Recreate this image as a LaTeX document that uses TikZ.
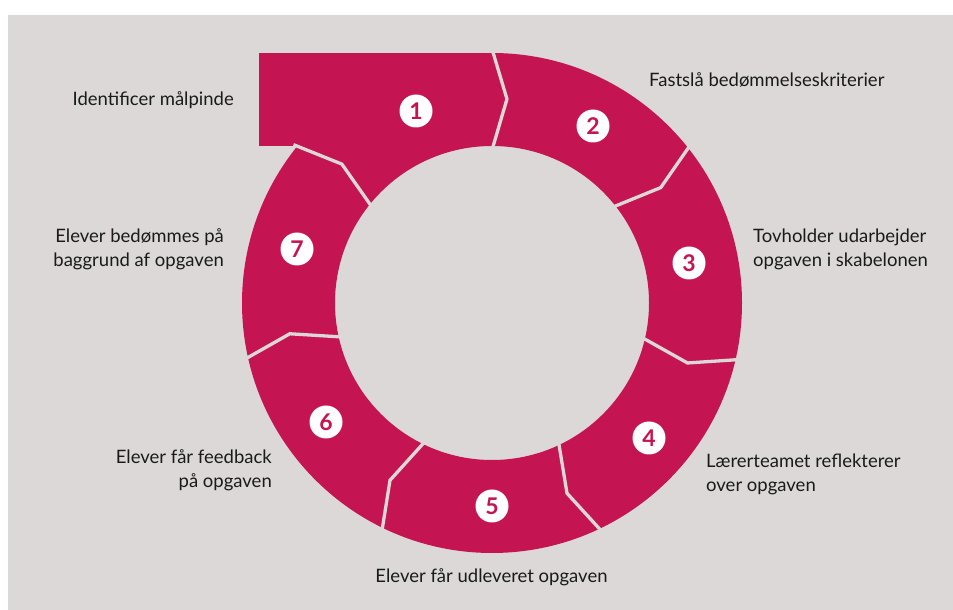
\documentclass[tikz,border=0pt]{standalone}
\usepackage{fontspec}
\setmainfont{Lato}
\definecolor{bg}{RGB}{220,216,215}
\definecolor{crim}{RGB}{196,21,82}
\definecolor{txt}{RGB}{26,26,26}
\begin{document}
\begin{tikzpicture}[x=1pt,y=1pt,
  gap/.style={draw=bg, line width=3.3pt, line join=miter},
  num/.style={circle, fill=white, minimum size=33pt, inner sep=0pt, text=crim, font=\fontsize{23}{23}\selectfont\bfseries},
  lab/.style={text=txt, font=\fontsize{18.5}{23.8}\selectfont, inner sep=0pt}]
\useasboundingbox (0,0) rectangle (953,610);
\fill[bg] (8,0) rectangle (953,595);
\coordinate (C) at (492,307);
\fill[crim, even odd rule] (C) circle[radius=250] (C) circle[radius=157];
\fill[crim] (259,464) rectangle (492,557);
\begin{scope}[shift={(C)}]
  \foreach \a in {90, 38.571, -12.857, -64.286, -115.714, -167.143, 141.429}{
    \draw[gap] (\a:153) -- (\a-4.2:204.5) -- (\a:254);
  }
\end{scope}
\node[num] (n1) at (416,499) {1};
\node[num] (n2) at (593,484) {2};
\node[num] (n3) at (689,347) {3};
\node[num] (n4) at (649,172) {4};
\node[num] (n5) at (492,104) {5};
\node[num] (n6) at (326,188) {6};
\node[num] (n7) at (297,361) {7};
\node[lab, anchor=base east] (l1) at (234,504) {Identificer målpinde};
\node[lab, anchor=base west] (l2) at (649,523) {Fastslå bedømmelseskriterier};
\node[lab, anchor=west, align=left] (l3) at (753,361) {Tovholder udarbejder\\opgaven i skabelonen};
\node[lab, anchor=west, align=left] (l4) at (706,135.5) {Lærerteamet reflekterer\\over opgaven};
\node[lab, anchor=base] (l5) at (491.5,27) {Elever får udleveret opgaven};
\node[lab, anchor=east, align=right] (l6) at (272,140) {Elever får feedback\\på opgaven};
\node[lab, anchor=east, align=right] (l7) at (224,360.6) {Elever bedømmes på\\baggrund af opgaven};
\end{tikzpicture}
\end{document}
